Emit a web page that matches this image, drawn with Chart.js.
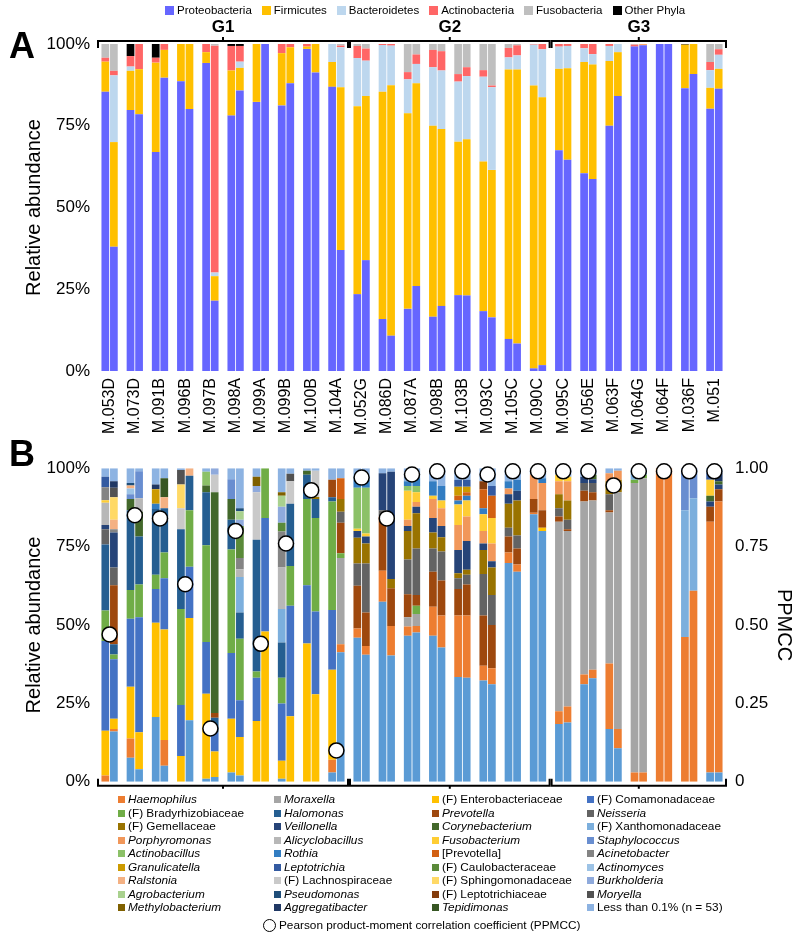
<!DOCTYPE html>
<html><head><meta charset="utf-8">
<script src="https://cdn.jsdelivr.net/npm/chart.js@4"></script>
<style>
body{margin:0;background:#fff;font-family:"Liberation Sans",Arial,sans-serif;color:#000;}
#wrap{position:relative;width:797px;height:939px;overflow:hidden;background:#fff;}
canvas{position:absolute;left:0;}
#cA{top:0;}
#cB{top:450px;}
.panel{position:absolute;font-weight:bold;font-size:36px;line-height:36px;}
#legA{position:absolute;top:3px;left:165px;display:flex;gap:10px;font-size:11.5px;line-height:14px;white-space:nowrap;}
#legA .it{display:flex;align-items:center;}
#legA .sq{width:9px;height:9px;margin-right:3px;}
#legB{position:absolute;top:793px;left:118px;display:grid;grid-template-columns:156px 158px 155px 200px;grid-auto-rows:13.5px;font-size:11.8px;line-height:13.5px;white-space:nowrap;}
#legB .it{display:flex;align-items:center;}
#legB .sq{width:7px;height:7px;margin-right:3px;flex:none;}
#legP{position:absolute;top:918px;left:263px;display:flex;align-items:center;font-size:11.8px;white-space:nowrap;}
#legP .c{width:11px;height:11px;border:1.3px solid #000;border-radius:50%;margin-right:3px;}
</style></head>
<body><div id="wrap">
<canvas id="cA" width="797" height="450"></canvas>
<canvas id="cB" width="797" height="350"></canvas>
<div class="panel" style="left:9px;top:28px;">A</div>
<div class="panel" style="left:9px;top:436px;">B</div>
<div id="legA"></div>
<div id="legB"></div>
<div id="legP"><div class="c"></div>Pearson product-moment correlation coefficient (PPMCC)</div>
</div>
<script>
Chart.defaults.font.family = "'Liberation Sans', Arial, sans-serif";
Chart.defaults.color = '#000';

// ---------- categories ----------
const samples = ["M.053D","M.073D","M.091B","M.096B","M.097B","M.098A","M.099A","M.099B","M.100B","M.104A",
  "M.052G","M.086D","M.087A","M.098B","M.103B","M.093C","M.105C","M.090C",
  "M.095C","M.056E","M.063F","M.064G","M.064F","M.036F","M.051"];
const groupNames = ["G1","G2","G3"];
const groupFirst = [0,10,18];
const groupLast = [9,17,24];

// ---------- panel A: phyla (left bar / right bar of each pair) ----------
const phylaNames = ["Proteobacteria","Firmicutes","Bacteroidetes","Actinobacteria","Fusobacteria","Other Phyla"];
const phylaColors = ["#6666FF","#FFC000","#BDD7EE","#FF6666","#BFBFBF","#000000"];
const proteoL = [85.4,79.8,67,88.6,94.2,78.1,82.3,81.2,98.5,86.9, 23.5,15.9,19,16.6,23.2,18.3,9.8,0.8, 67.5,60.5,75,99.2,100,86.5,80.2];
const proteoR = [38,78.5,89.7,80.1,21.5,85.8,100,88,91.3,37, 33.9,10.8,26,19.9,23.1,16.4,8.4,1.8, 64.6,58.7,84.1,99.6,100,90.8,86.3];
const firmL = [9.2,12,27.3,11.4,3.3,13.8,17.7,16,0.7,7.6, 57.5,69.5,59.8,58.4,46.9,45.8,82.4,86.5, 24.9,34,19.8,0,0,13.3,6.4];
const firmR = [32,13.8,8.5,19.9,7.5,6.9,0,11,8.7,49.8, 50.2,76.6,62,54.1,47.8,45.1,83.8,81.9, 28,35,13.4,0.2,0,9.2,6.1];
const bactL = [0,1.3,0,0,0,0,0,0,0,5.5, 14.7,14.3,10.4,17.9,18.4,25.9,3.7,12.5, 6.8,4.2,4.6,0,0,0,5.4];
const bactR = [20.4,0,0,0,1.1,1.9,0,0,0,12.2, 10.8,12.1,5.9,17.9,19.3,25.3,4.3,14.7, 6.8,3.2,2.5,0,0,0,4.3];
const actinoL = [1.2,3.2,1.5,0,2.5,7.5,0,2.8,0.8,0, 3.7,0.3,2.2,5.3,2.3,2,2.9,0.2, 0.8,1.3,0.6,0.6,0,0,2.5];
const actinoR = [1.4,7.7,1.8,0,69.4,4.8,0,1,0,0.5, 3.7,0.5,2.9,5.9,2.7,0.5,3.1,1.6, 0.6,3.1,0,0.2,0,0,1.7];
const fusoL = [4.2,0,0,0,0,0,0,0,0,0, 0.6,0,8.6,1.8,9.2,8,1.2,0, 0,0,0,0.2,0,0,5.5];
const fusoR = [8.2,0,0,0,0.5,0,0,0,0,0.5, 1.4,0,3.2,2.2,7.1,12.7,0.4,0, 0,0,0,0,0,0,1.6];
const otherL = [0,3.7,4.2,0,0,0.6,0,0,0,0, 0,0,0,0,0,0,0,0, 0,0,0,0,0,0.2,0];
const otherR = [0,0,0,0,0,0.6,0,0,0,0, 0,0,0,0,0,0,0,0, 0,0,0,0,0,0,0];
const phylaL = [proteoL,firmL,bactL,actinoL,fusoL,otherL];
const phylaR = [proteoR,firmR,bactR,actinoR,fusoR,otherR];

// ---------- panel B: taxa (stack order bottom -> top) ----------
const taxaKeys = ["St","Hae","Mor","Ent","Com","Bra","Hal","Pre","Nei","Gem","Vei","Cor","Xan","Por","Ali","Fus","Sta","Act","Rot","PrB","Aci","Gra","Lep","Cau","Acm","Ral","Lac","Sph","Bur","Agr","Pse","Lpc","Mry","Met","Agg","Tep","Les"];
const taxaNames = ["Streptococcus","Haemophilus","Moraxella","(F) Enterobacteriaceae","(F) Comamonadaceae","(F) Bradyrhizobiaceae","Halomonas","Prevotella","Neisseria","(F) Gemellaceae","Veillonella","Corynebacterium","(F) Xanthomonadaceae","Porphyromonas","Alicyclobacillus","Fusobacterium","Staphylococcus","Actinobacillus","Rothia","[Prevotella]","Acinetobacter","Granulicatella","Leptotrichia","(F) Caulobacteraceae","Actinomyces","Ralstonia","(F) Lachnospiraceae","(F) Sphingomonadaceae","Burkholderia","Agrobacterium","Pseudomonas","(F) Leptotrichiaceae","Moryella","Methylobacterium","Aggregatibacter","Tepidimonas","Less than 0.1% (n = 53)"];
const taxaColors = ["#5B9BD5","#ED7D31","#A5A5A5","#FFC000","#4472C4","#70AD47","#255E91","#9E480E","#636363","#997300","#264478","#43682B","#7CAFDD","#F1975A","#B7B7B7","#FFCD33","#698ED0","#8CC168","#327DC2","#D26012","#848484","#CC9A00","#335AA1","#5A8A39","#9DC3E6","#F4B183","#C9C9C9","#FFD966","#8FAADC","#A9D18E","#1F4E79","#843C0C","#525252","#7F6000","#203864","#375623","#8DB3E2"];
const taxaItalic = [1,1,1,0,0,0,1,1,1,0,1,1,0,1,1,1,1,1,1,0,1,1,1,0,1,1,0,0,1,1,1,0,1,1,1,1,0];
const taxaInLegend = [0,1,1,1,1,1,1,1,1,1,1,1,1,1,1,1,1,1,1,1,1,1,1,1,1,1,1,1,1,1,1,1,1,1,1,1,1];

const M053D_L = [["Hae",2],["Ent",14.3],["Com",28.6],["Bra",9.7],["Hal",21.1],["Nei",4.8],["Vei",1.4],["Ali",7.1],["Fus",0.8],["Aci",4.1],["Lep",3.4],["Les",2.7]];
const M053D_R = [["St",16],["Hae",0.8],["Ent",3.3],["Com",19.0],["Bra",1.5],["Hal",3.3],["Pre",18.8],["Nei",5.6],["Vei",11.2],["Aci",1.0],["Ral",3.1],["Sph",7.1],["Mry",3.1],["Agg",2.0],["Les",4.2]];
const M073D_L = [["St",7.7],["Hae",6.1],["Ent",16.5],["Com",21.7],["Bra",9.2],["Hal",25.4],["Cor",3.6],["Sta",1.5],["Acm",1.8],["Ral",1.0],["Pse",0.8],["Les",4.7]];
const M073D_R = [["St",4],["Ent",11.8],["Com",36.7],["Bra",10.4],["Hal",15.3],["Cor",7.9],["Ali",4.3],["Sta",8.6],["Les",1.0]];
const M091B_L = [["St",20.7],["Ent",30.0],["Com",10.8],["Bra",4.5],["Hal",21.0],["Rot",1.7],["Gra",4.6],["Agg",1.5],["Les",5.2]];
const M091B_R = [["St",5.1],["Hae",8.2],["Ent",35.3],["Com",16.3],["Bra",8.2],["Hal",14.1],["Ral",3.5],["Tep",6.1],["Les",3.2]];
const M096B_L = [["Ent",8.2],["Com",16.3],["Bra",30.6],["Hal",25.4],["Lac",6.7],["Sph",7.6],["Mry",4.6],["Les",0.6]];
const M096B_R = [["St",19.6],["Ent",32.6],["Com",16.4],["Bra",18.0],["Hal",11.0],["Ral",2.4]];
const M097B_L = [["St",1],["Ent",27.1],["Com",16.5],["Bra",30.8],["Hal",16.9],["Cor",2.2],["Act",4.4],["Les",1.1]];
const M097B_R = [["St",1.5],["Ent",8.2],["Com",6.1],["Hal",4.6],["Pre",1.5],["Cor",70.4],["Lac",5.6],["Bur",2.1]];
const M098A_L = [["St",3],["Ent",17.1],["Com",21.0],["Bra",33.0],["Hal",9.5],["Cor",6.6],["Sta",6.3],["Les",3.5]];
const M098A_R = [["St",2],["Ent",12.3],["Com",11.7],["Bra",19.6],["Hal",8.4],["Xan",11.3],["Ali",2.5],["Aci",3.6],["Cau",10.2],["Bur",2.0],["Agr",2.7],["Pse",0.9],["Les",12.8]];
const M099A_L = [["Ent",19.4],["Com",13.8],["Bra",2.0],["Hal",42.0],["Lac",15.1],["Bur",2.0],["Met",3.0],["Les",2.7]];
const M099A_R = [["Ent",47.9],["Com",36.2],["Bra",15.9]];
const M099B_L = [["St",1],["Ent",5.7],["Com",18.3],["Bra",8.2],["Hal",11.2],["Xan",10.7],["Ali",13.2],["Aci",11.5],["Cau",2.8],["Bur",5.1],["Agr",3.5],["Met",1.1],["Les",7.7]];
const M099B_R = [["Ent",20.9],["Com",35.2],["Bra",12.7],["Hal",19.9],["Lac",7.1],["Mry",2.4],["Les",1.8]];
const M100B_L = [["Ent",44.1],["Com",18.6],["Bra",27.5],["Hal",7.7],["Cor",1.3],["Les",0.8]];
const M100B_R = [["Ent",27.9],["Com",26.4],["Bra",29.8],["Hal",6.1],["Gem",0.6],["Lac",8.4],["Les",0.8]];
const M104A_L = [["St",3],["Hae",4],["Ent",28.7],["Com",19.1],["Bra",34.6],["Hal",1.3],["Pre",5.6],["Les",3.7]];
const M104A_R = [["St",41.3],["Hae",2.6],["Mor",27.5],["Bra",1.5],["Pre",9.7],["Nei",3.5],["Gem",4.1],["PrB",6.6],["Les",3.2]];
const M052G_L = [["St",45.9],["Hae",3.0],["Pre",13.6],["Nei",7.1],["Gem",8.2],["Vei",2.2],["Fus",0.7],["Act",13.1],["Rot",2.5],["Les",3.7]];
const M052G_R = [["St",40.5],["Hae",2.8],["Pre",10.7],["Nei",15.6],["Gem",6.4],["Vei",2.2],["Fus",1.0],["Act",14.6],["Rot",2.5],["Les",3.7]];
const M086D_L = [["St",57.4],["Hae",9.9],["Pre",17.3],["Nei",2.0],["Vei",11.8],["Les",1.6]];
const M086D_R = [["St",40.3],["Hae",9.4],["Pre",12.0],["Gem",3.0],["Vei",34.2],["Les",1.1]];
const M087A_L = [["St",46.6],["Hae",2.9],["Mor",3.0],["Pre",7.3],["Nei",11.1],["Gem",9.1],["Vei",1.6],["Por",2.0],["Fus",9.2],["Act",1.5],["Rot",1.5],["Les",4.2]];
const M087A_R = [["St",47.6],["Hae",2.1],["Mor",3.8],["Bra",2.6],["Pre",3.5],["Nei",14.8],["Gem",11.2],["Vei",2.1],["Por",1.5],["Fus",3.1],["Act",2.0],["Rot",2.5],["Les",3.2]];
const M098B_L = [["St",46.6],["Hae",9.2],["Pre",11.2],["Nei",7.4],["Gem",5.1],["Vei",4.6],["Por",6.1],["Fus",1.0],["Rot",4.6],["Les",4.2]];
const M098B_R = [["St",42.8],["Hae",10.2],["Pre",11.2],["Nei",9.2],["Gem",4.6],["Vei",3.6],["Por",5.6],["Fus",2.5],["Rot",4.6],["Les",5.7]];
const M103B_L = [["St",33.4],["Hae",19.6],["Pre",8.5],["Nei",3.4],["Gem",1.6],["Vei",7.4],["Por",8.0],["Fus",6.5],["Rot",1.3],["PrB",1.5],["Gra",2.9],["Lep",2.2],["Les",3.7]];
const M103B_R = [["St",33.2],["Hae",19.8],["Pre",9.9],["Nei",3.1],["Gem",1.6],["Vei",9.2],["Por",7.8],["Fus",5.1],["Rot",1.5],["PrB",1.1],["Gra",1.8],["Lep",2.2],["Les",3.7]];
const M093C_L = [["St",32.3],["Hae",4.7],["Pre",16.0],["Nei",13.3],["Gem",7.6],["Vei",2.1],["Por",4.0],["Fus",5.3],["Rot",1.9],["PrB",6.1],["Lpc",2.5],["Les",4.2]];
const M093C_R = [["St",31.1],["Hae",5.1],["Pre",13.8],["Nei",9.6],["Gem",8.7],["Vei",2.0],["Por",5.7],["Fus",8.1],["PrB",7.1],["Lep",3.1],["Les",5.7]];
const M105C_L = [["St",69.8],["Hae",3.3],["Pre",5.1],["Nei",2.8],["Gem",7.7],["Vei",3.0],["Por",1.8],["Rot",2.3],["Les",4.2]];
const M105C_R = [["St",67.0],["Hae",2.3],["Pre",5.1],["Nei",4.1],["Gem",11.2],["Vei",3.1],["Rot",3.5],["Les",3.7]];
const M090C_L = [["St",85.3],["Hae",0.5],["Pre",4.4],["Por",7.7],["Les",2.1]];
const M090C_R = [["St",80.0],["Ent",1.0],["Pre",5.6],["Por",8.7],["Rot",1.5],["Les",3.2]];
const M095C_L = [["St",18.4],["Hae",4.1],["Mor",60.4],["Pre",1.7],["Nei",2.6],["Gem",4.5],["Por",4.1],["Fus",2.1],["Les",2.1]];
const M095C_R = [["St",18.9],["Hae",5.1],["Mor",56.0],["Pre",0.5],["Nei",3.1],["Gem",6.1],["Por",6.1],["Fus",1.5],["Les",2.7]];
const M056E_L = [["St",31.1],["Hae",3.1],["Mor",55.2],["Pre",3.4],["Nei",2.5],["Vei",2.0],["Les",2.7]];
const M056E_R = [["St",33.0],["Hae",2.7],["Mor",54.0],["Pre",2.6],["Nei",3.0],["Vei",1.2],["Cor",1.4],["Les",2.1]];
const M063F_L = [["St",16.8],["Hae",20.9],["Mor",48.2],["Pre",0.7],["Nei",5.1],["Gem",4.1],["Por",2.6],["Les",1.6]];
const M063F_R = [["St",10.7],["Hae",6.1],["Mor",75.5],["Gem",4.0],["Por",2.9],["Les",0.8]];
const M064G_L = [["Hae",3],["Mor",92.3],["Bra",1.0],["Xan",3.7]];
const M064G_R = [["Hae",3],["Mor",93.8],["Bra",1.1],["Xan",2.1]];
const M064F_L = [["Hae",100]];
const M064F_R = [["Hae",100]];
const M036F_L = [["Hae",46.2],["Xan",40.4],["Sta",13.4]];
const M036F_R = [["Hae",60.9],["Xan",29.5],["Sta",9.6]];
const M051_L = [["St",3],["Hae",79.9],["Pre",4.8],["Vei",1.7],["Cor",1.8],["Fus",5.1],["Lep",2.1],["Les",1.6]];
const M051_R = [["St",3],["Hae",86.4],["Pre",3.9],["Vei",1.5],["Cor",1.0],["Agg",2.6],["Les",1.6]];

const barsL = [M053D_L,M073D_L,M091B_L,M096B_L,M097B_L,M098A_L,M099A_L,M099B_L,M100B_L,M104A_L,M052G_L,M086D_L,M087A_L,M098B_L,M103B_L,M093C_L,M105C_L,M090C_L,M095C_L,M056E_L,M063F_L,M064G_L,M064F_L,M036F_L,M051_L];
const barsR = [M053D_R,M073D_R,M091B_R,M096B_R,M097B_R,M098A_R,M099A_R,M099B_R,M100B_R,M104A_R,M052G_R,M086D_R,M087A_R,M098B_R,M103B_R,M093C_R,M105C_R,M090C_R,M095C_R,M056E_R,M063F_R,M064G_R,M064F_R,M036F_R,M051_R];

const ppmcc = [0.47,0.85,0.84,0.63,0.17,0.80,0.44,0.76,0.93,0.10, 0.97,0.84,0.98,0.99,0.99,0.98,0.99,0.99, 0.99,0.99,0.945,0.99,0.99,0.99,0.99];

// ---------- helpers ----------
const FONT = "'Liberation Sans', Arial, sans-serif";
function valueOf(bar, key){ const e = bar.find(p => p[0] === key); return e ? e[1] : 0; }

function bracketPlugin(isTop){
  return {
    id:'brackets'+(isTop?'A':'B'),
    afterDraw(chart){
      const ctx = chart.ctx, xs = chart.scales.x, ca = chart.chartArea;
      const w = xs.width / samples.length;
      ctx.save();
      ctx.strokeStyle = '#000'; ctx.lineWidth = 2; ctx.fillStyle = '#000';
      ctx.font = 'bold 17px ' + FONT; ctx.textAlign = 'center'; ctx.textBaseline = 'middle';
      for (let g = 0; g < groupNames.length; g++){
        const x0 = xs.getPixelForValue(groupFirst[g]) - w/2 + 1;
        const x1 = xs.getPixelForValue(groupLast[g]) + w/2 - 1;
        const mid = (x0 + x1)/2;
        ctx.beginPath();
        if (isTop){
          const y = ca.top - 3;
          ctx.moveTo(x0, y + 7); ctx.lineTo(x0, y); ctx.lineTo(x1, y); ctx.lineTo(x1, y + 7);
          ctx.moveTo(mid, y); ctx.lineTo(mid, y - 4);
          ctx.stroke();
          ctx.fillText(groupNames[g], mid, y - 14);
        } else {
          const y = ca.bottom + 4;
          ctx.moveTo(x0, y - 7); ctx.lineTo(x0, y); ctx.lineTo(x1, y); ctx.lineTo(x1, y - 7);
          ctx.moveTo(mid, y); ctx.lineTo(mid, y + 3);
          ctx.stroke();
        }
      }
      ctx.restore();
    }
  };
}

const CAT = 0.68, BARP = 0.9;

// ---------- chart A ----------
const dsA = [];
phylaNames.forEach((n,i) => {
  dsA.push({label:n, data:phylaL[i], backgroundColor:phylaColors[i], stack:'L', borderWidth:0, categoryPercentage:CAT, barPercentage:BARP});
});
phylaNames.forEach((n,i) => {
  dsA.push({label:n+' R', data:phylaR[i], backgroundColor:phylaColors[i], stack:'R', borderWidth:0, categoryPercentage:CAT, barPercentage:BARP});
});

new Chart(document.getElementById('cA'), {
  type:'bar',
  data:{labels:samples, datasets:dsA},
  options:{
    responsive:false, animation:false,
    layout:{padding:{top:44,right:70,left:0,bottom:0}},
    plugins:{legend:{display:false}, tooltip:{enabled:false}},
    scales:{
      x:{stacked:true, grid:{display:false,drawTicks:false}, border:{display:false},
         ticks:{minRotation:90,maxRotation:90,autoSkip:false,padding:7,color:'#000',font:{size:16,family:FONT}},
         afterFit:s => { s.height = 79; }},
      y:{stacked:true, min:0, max:100,
         ticks:{stepSize:25, callback:v => v + '%', padding:7, color:'#000', font:{size:17,family:FONT}},
         grid:{display:false,drawTicks:false}, border:{display:false},
         title:{display:true, text:'Relative abundance', color:'#000', font:{size:20,family:FONT}, padding:{top:22,bottom:0}},
         afterFit:s => { s.width = 97; }}
    }
  },
  plugins:[bracketPlugin(true)]
});

// ---------- chart B ----------
const dsB = [];
taxaKeys.forEach((k,i) => {
  dsB.push({type:'bar', label:taxaNames[i], data:barsL.map(b => valueOf(b,k)), backgroundColor:taxaColors[i], stack:'L', yAxisID:'y', borderWidth:0, categoryPercentage:CAT, barPercentage:BARP});
});
taxaKeys.forEach((k,i) => {
  dsB.push({type:'bar', label:taxaNames[i]+' R', data:barsR.map(b => valueOf(b,k)), backgroundColor:taxaColors[i], stack:'R', yAxisID:'y', borderWidth:0, categoryPercentage:CAT, barPercentage:BARP});
});
dsB.push({type:'line', label:'Pearson product-moment correlation coefficient (PPMCC)', data:ppmcc, yAxisID:'y2', showLine:false,
  pointRadius:7.5, pointBackgroundColor:'#fff', pointBorderColor:'#000', pointBorderWidth:1.5, order:-1, clip:false});

new Chart(document.getElementById('cB'), {
  type:'bar',
  data:{labels:samples, datasets:dsB},
  options:{
    responsive:false, animation:false,
    layout:{padding:{top:8,right:0,left:0,bottom:15}},
    plugins:{legend:{display:false}, tooltip:{enabled:false}},
    scales:{
      x:{stacked:true, display:false},
      y:{stacked:true, min:0, max:100, position:'left',
         ticks:{stepSize:25, callback:v => v + '%', padding:7, color:'#000', font:{size:17,family:FONT}},
         grid:{display:false,drawTicks:false}, border:{display:false},
         title:{display:true, text:'Relative abundance', color:'#000', font:{size:20,family:FONT}, padding:{top:22,bottom:0}},
         afterFit:s => { s.width = 97; }},
      y2:{min:0, max:1, position:'right',
         ticks:{stepSize:0.25, callback:v => v === 0 ? '0' : v.toFixed(2), padding:8, color:'#000', font:{size:17,family:FONT}},
         grid:{display:false,drawTicks:false}, border:{display:false},
         title:{display:true, text:'PPMCC', color:'#000', font:{size:20,family:FONT}, padding:{top:1,bottom:0}},
         afterFit:s => { s.width = 70; }}
    }
  },
  plugins:[bracketPlugin(false)]
});

// ---------- HTML legends built from the same arrays ----------
const legA = document.getElementById('legA');
phylaNames.forEach((n,i) => {
  const it = document.createElement('div'); it.className = 'it';
  const sq = document.createElement('div'); sq.className = 'sq'; sq.style.background = phylaColors[i];
  const t = document.createElement('span'); t.textContent = n;
  it.appendChild(sq); it.appendChild(t); legA.appendChild(it);
});
const legB = document.getElementById('legB');
taxaKeys.forEach((k,i) => {
  if (!taxaInLegend[i]) return;
  const it = document.createElement('div'); it.className = 'it';
  const sq = document.createElement('div'); sq.className = 'sq'; sq.style.background = taxaColors[i];
  const t = document.createElement('span'); t.textContent = taxaNames[i];
  if (taxaItalic[i]) t.style.fontStyle = 'italic';
  it.appendChild(sq); it.appendChild(t); legB.appendChild(it);
});
</script>
</body></html>
